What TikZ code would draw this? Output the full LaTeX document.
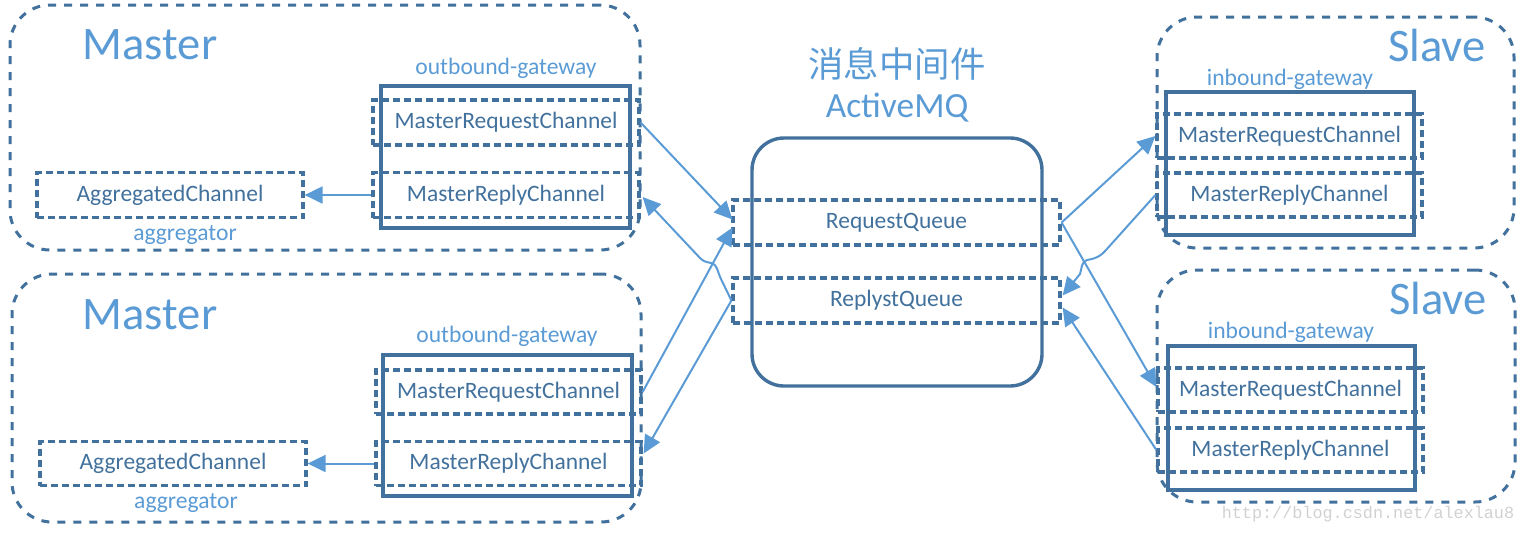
\documentclass[tikz,border=0pt]{standalone}
\usepackage{fontspec}
\setmainfont{Carlito}
\newfontfamily\cjk{Noto Sans CJK SC}
\newfontfamily\wmfont{Liberation Mono}
\usetikzlibrary{arrows.meta,calc}
\definecolor{dkblue}{HTML}{41719C}
\definecolor{ltblue}{HTML}{5B9BD5}
\begin{document}
\begin{tikzpicture}[x=0.5pt,y=-0.5pt,
  outerbox/.style={draw=dkblue,line width=1.5pt,dash pattern=on 4pt off 4pt,rounded corners=20pt,inner sep=0pt},
  gwbox/.style={draw=dkblue,line width=1.7pt,inner sep=0pt},
  chbox/.style={draw=dkblue,line width=1.6pt,dash pattern=on 3.5pt off 2pt,inner sep=0pt,text=dkblue,font=\fontsize{11.75}{14}\selectfont},
  mqbox/.style={draw=dkblue,line width=1.7pt,rounded corners=16pt,inner sep=0pt},
  bigtitle/.style={text=ltblue,font=\fontsize{23.3}{28}\selectfont,inner sep=0pt},
  midtitle/.style={text=ltblue,font=\fontsize{17.7}{21}\selectfont,inner sep=0pt},
  smalltitle/.style={text=ltblue,font=\fontsize{11.8}{14}\selectfont,inner sep=0pt},
  arr/.style={draw=ltblue,line width=1pt,-{Triangle[length=9pt,width=8.5pt]}}
]
\useasboundingbox (0,0) rectangle (1525,532);

% ---------- top-left Master ----------
\node[outerbox,minimum width=315pt,minimum height=122.5pt] (outerTL) at (325,127.5) {};
\node[gwbox,minimum width=124.5pt,minimum height=71pt] (gwTL) at (505.5,157) {};
\node[chbox,minimum width=133pt,minimum height=22.5pt] (reqTL) at (506,122.5) {MasterRequestChannel};
\node[chbox,minimum width=133pt,minimum height=22.5pt] (repTL) at (506,195) {MasterReplyChannel};
\node[chbox,minimum width=133pt,minimum height=22.5pt] (aggTL) at (170,195) {AggregatedChannel};
\node[bigtitle] (mTL) at (150,45) {Master};
\node[smalltitle] (ogTL) at (506,68) {outbound-gateway};
\node[smalltitle] (agTL) at (185,235) {aggregator};

% ---------- bottom-left Master ----------
\node[outerbox,minimum width=314.5pt,minimum height=124pt] (outerBL) at (326.5,398) {};
\node[gwbox,minimum width=124.5pt,minimum height=70.5pt] (gwBL) at (507.5,425.5) {};
\node[chbox,minimum width=132.5pt,minimum height=22pt] (reqBL) at (508.5,392) {MasterRequestChannel};
\node[chbox,minimum width=132.5pt,minimum height=22pt] (repBL) at (508.5,463.5) {MasterReplyChannel};
\node[chbox,minimum width=133pt,minimum height=22pt] (aggBL) at (173,463.5) {AggregatedChannel};
\node[bigtitle] (mBL) at (150,315) {Master};
\node[smalltitle] (ogBL) at (507,336) {outbound-gateway};
\node[smalltitle] (agBL) at (186,503) {aggregator};

% ---------- ActiveMQ ----------
\node[mqbox,minimum width=145pt,minimum height=124pt] (mq) at (897,262) {};
\node[chbox,minimum width=163.5pt,minimum height=22.5pt] (rqq) at (896.5,222.5) {RequestQueue};
\node[chbox,minimum width=163.5pt,minimum height=22.5pt] (rpq) at (896.5,300.5) {ReplystQueue};
\node[midtitle,font=\cjk\fontsize{17.7}{21}\selectfont] (zh) at (897,64) {消息中间件};
\node[midtitle] (amq) at (897,108) {ActiveMQ};

% ---------- top-right Slave ----------
\node[outerbox,minimum width=178.5pt,minimum height=115.5pt] (outerTR) at (1335.5,132.5) {};
\node[gwbox,minimum width=124pt,minimum height=71.5pt] (gwTR) at (1290,163.5) {};
\node[chbox,minimum width=132.5pt,minimum height=22pt] (reqTR) at (1289.5,136) {MasterRequestChannel};
\node[chbox,minimum width=132.5pt,minimum height=22pt] (repTR) at (1289.5,195) {MasterReplyChannel};
\node[bigtitle] (sTR) at (1437,45) {Slave};
\node[smalltitle] (igTR) at (1290,79) {inbound-gateway};

% ---------- bottom-right Slave ----------
\node[outerbox,minimum width=179pt,minimum height=116pt] (outerBR) at (1336,386) {};
\node[gwbox,minimum width=123.5pt,minimum height=72pt] (gwBR) at (1291.5,418) {};
\node[chbox,minimum width=132.5pt,minimum height=22pt] (reqBR) at (1290.5,390) {MasterRequestChannel};
\node[chbox,minimum width=132.5pt,minimum height=22pt] (repBR) at (1290.5,450) {MasterReplyChannel};
\node[bigtitle] (sBR) at (1438,298) {Slave};
\node[smalltitle] (igBR) at (1291,332) {inbound-gateway};

% ---------- connectors ----------
\draw[arr] (repTL.west) -- (aggTL.east);
\draw[arr] (repBL.west) -- (aggBL.east);

\draw[arr] (reqTL.east) -- ($(rqq.west)+(1,-3)$);
\draw[arr] (reqBL.east) -- ($(rqq.west)+(1,5)$);
\draw[arr] (rpq.west) -- (721,279) .. controls (717,271) and (718,265) .. (711,263)
   .. controls (707,262) and (704,262) .. (700,258) -- ($(repTL.east)+(2,2)$);
\draw[arr] (rpq.west) -- ($(repBL.east)+(1,-10)$);

\draw[arr] (rqq.east) -- (reqTR.west);
\draw[arr] (rqq.east) -- ($(reqBR.west)+(0,-3)$);
\draw[arr] (repTR.west) -- (1106,250) .. controls (1100,257) and (1094,259) .. (1087,260)
   .. controls (1081,262) and (1082,268) .. (1080,274) -- ($(rpq.east)+(1,-5)$);
\draw[arr] (repBR.west) -- ($(rpq.east)+(1,7)$);

% watermark
\node[text=black!18,font=\wmfont\fontsize{8.4}{10}\selectfont,inner sep=0pt] (wm) at (1368,514) {http://blog.csdn.net/alexlau8};
\end{tikzpicture}
\end{document}
